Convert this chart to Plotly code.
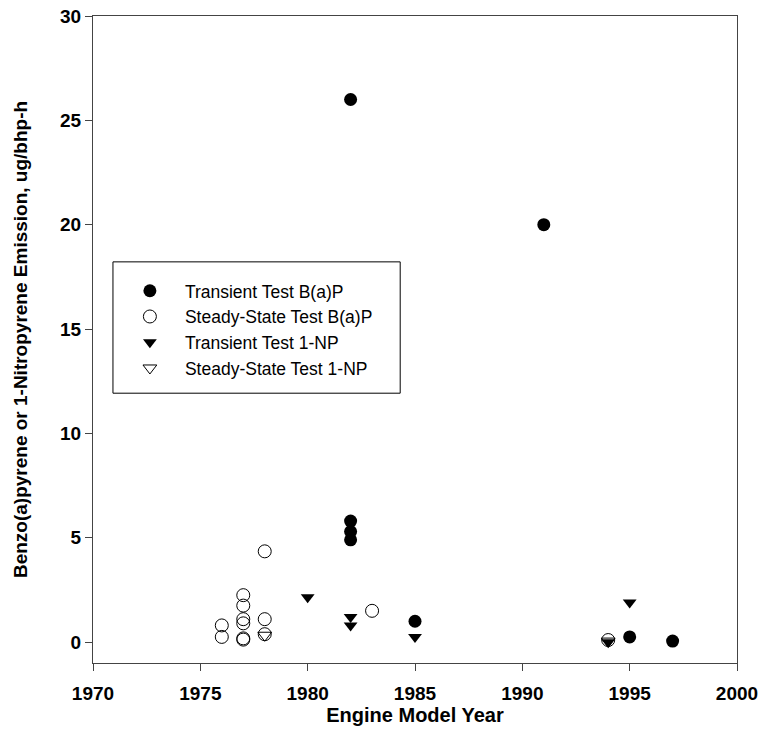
import plotly.graph_objects as go

# Data
tr_bap_x = [1982, 1982, 1982, 1982, 1991, 1985, 1995, 1997]
tr_bap_y = [26.0, 5.8, 5.3, 4.9, 20.0, 1.0, 0.25, 0.05]

ss_bap_x = [1976, 1976, 1977, 1977, 1977, 1977, 1977, 1977, 1978, 1978, 1978, 1983, 1994]
ss_bap_y = [0.8, 0.25, 2.25, 1.75, 1.1, 0.9, 0.18, 0.12, 4.35, 1.1, 0.38, 1.5, 0.1]

tr_np_x = [1980, 1982, 1982, 1985, 1995, 1994]
tr_np_y = [2.15, 1.2, 0.8, 0.25, 1.9, 0.0]

ss_np_x = [1978, 1994]
ss_np_y = [0.33, 0.05]

x_ticks = [1970, 1975, 1980, 1985, 1990, 1995, 2000]
y_ticks = [0, 5, 10, 15, 20, 25, 30]

FONT = "Arial, Liberation Sans, sans-serif"

fig = go.Figure()
fig.add_trace(go.Scatter(x=tr_bap_x, y=tr_bap_y, mode="markers", name="Transient Test B(a)P",
                         marker=dict(symbol="circle", size=13, color="black")))
fig.add_trace(go.Scatter(x=ss_bap_x, y=ss_bap_y, mode="markers", name="Steady-State Test B(a)P",
                         marker=dict(symbol="circle-open", size=13, color="black", line=dict(width=1))))
fig.add_trace(go.Scatter(x=tr_np_x, y=tr_np_y, mode="markers", name="Transient Test 1-NP",
                         marker=dict(symbol="triangle-down", size=12, color="black")))
fig.add_trace(go.Scatter(x=ss_np_x, y=ss_np_y, mode="markers", name="Steady-State Test 1-NP",
                         marker=dict(symbol="triangle-down-open", size=12, color="black", line=dict(width=1))))

axis_common = dict(showgrid=False, zeroline=False, showline=True, linecolor="#444", linewidth=1,
                   mirror=True, ticks="outside", ticklen=7, tickcolor="#444", automargin=False,
                   ticklabeloverflow="allow",
                   tickfont=dict(family=FONT, size=19, color="black", weight="bold"))

# plot area at x 93..737, y 16..663 of the 766x747 page
fig.update_layout(
    width=766, height=747,
    margin=dict(l=93, r=29, t=16, b=84),
    plot_bgcolor="white", paper_bgcolor="white",
    font=dict(family=FONT, color="black"),
    showlegend=True,
    legend=dict(x=0.034, y=0.603, xanchor="left", yanchor="top",
                borderwidth=0, bgcolor="rgba(0,0,0,0)",
                font=dict(family=FONT, size=17.5, color="black"),
                itemwidth=60, tracegroupgap=0),
    shapes=[dict(type="rect", xref="paper", yref="paper",
                 x0=0.031, x1=0.477, y0=0.417, y1=0.620,
                 line=dict(color="black", width=1), fillcolor="white", layer="below")],
    xaxis=dict(range=[1970, 2000], tickvals=x_ticks, ticktext=[str(v) for v in x_ticks],
               ticklabelstandoff=6,
               title=dict(text="Engine Model Year",
                          font=dict(family=FONT, size=20, weight="bold"), standoff=2),
               **axis_common),
    yaxis=dict(range=[-1, 30], tickvals=y_ticks, ticktext=[str(v) for v in y_ticks],
               title=dict(text="Benzo(a)pyrene or 1-Nitropyrene Emission, ug/bhp-h",
                          font=dict(family=FONT, size=19, weight="bold"), standoff=27),
               **axis_common),
)

fig.write_html("out.html", config={"displayModeBar": False},
               post_script="document.body.style.margin='0';")
